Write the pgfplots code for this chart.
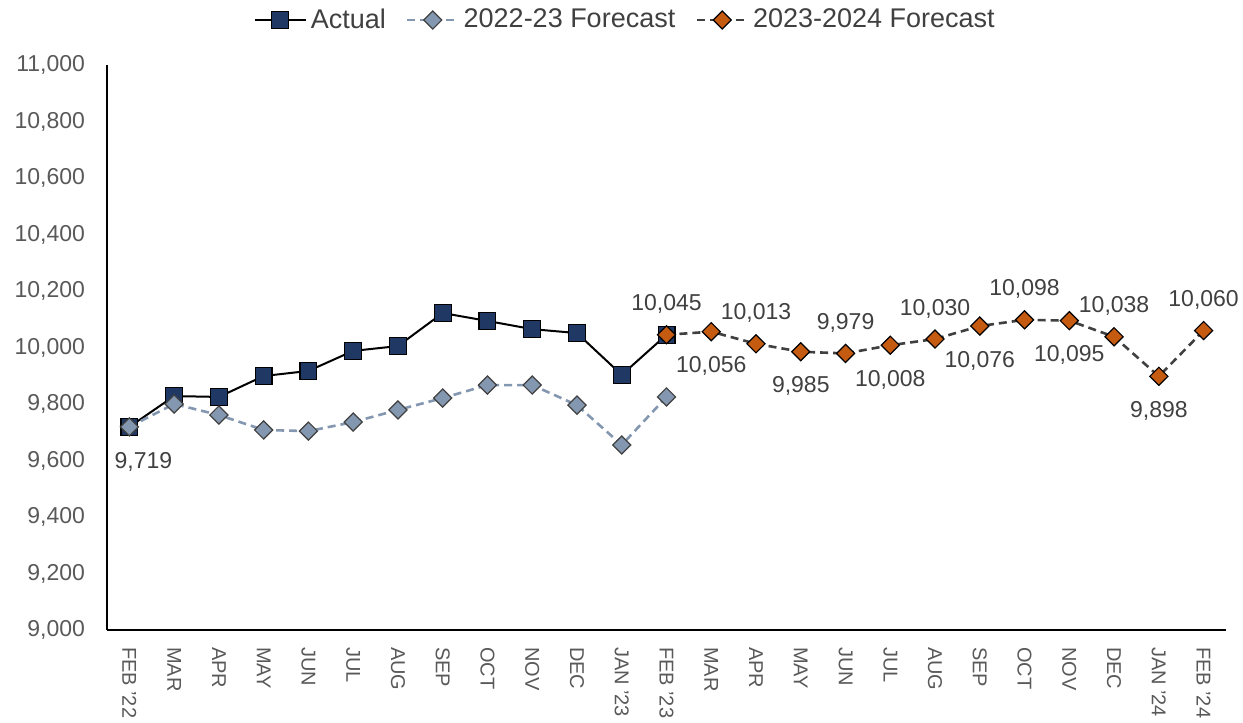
\documentclass[border=0pt]{standalone}
\usepackage{pgfplots}
\pgfplotsset{compat=1.18}
\usepackage{pgfplotstable}
\usepackage{fontspec}
\setmainfont{Liberation Sans}
\definecolor{navy}{HTML}{1F3864}
\definecolor{steel}{HTML}{8497B0}
\definecolor{rust}{HTML}{C55A11}
\definecolor{dgray}{HTML}{404040}
\definecolor{tgray}{HTML}{595959}

\pgfplotstableread{
x y
0 9719
1 9828
2 9825
3 9899
4 9917
5 9988
6 10005
7 10122
8 10094
9 10065
10 10051
11 9903
12 10045
}\actual

\pgfplotstableread{
x y
0 9719
1 9800
2 9761
3 9708
4 9704
5 9736
6 9779
7 9821
8 9867
9 9867
10 9796
11 9655
12 9825
}\fcsta

\pgfplotstableread{
x y
12 10045
13 10056
14 10013
15 9985
16 9979
17 10008
18 10030
19 10076
20 10098
21 10095
22 10038
23 9898
24 10060
}\fcstb

\pgfplotstableread{
x y label dx
12 10045 10,045 0
14 10013 10,013 0
16 9979 9,979 0
18 10030 10,030 0
20 10098 10,098 0
22 10038 10,038 0
24 10060 10,060 0
}\lababove

\pgfplotstableread{
x y label dx
0 9719 9,719 7
13 10056 10,056 0
15 9985 9,985 0
17 10008 10,008 0
19 10076 10,076 0
21 10095 10,095 0
23 9898 9,898 0
}\labbelow

\begin{document}
\begin{tikzpicture}
\begin{axis}[
  scale only axis,
  width=559.5pt, height=282.5pt,
  xmin=-0.5, xmax=24.5,
  ymin=9000, ymax=11000,
  ytick={9000,9200,...,11000},
  scaled y ticks=false,
  yticklabel={\pgfmathprintnumber[fixed,precision=0,1000 sep={,}]{\tick}},
  axis x line*=bottom, axis y line*=left,
  axis line style={black, line width=0.9pt},
  major tick length=0pt,
  xtick={0,...,24},
  xticklabels={FEB '22,MAR,APR,MAY,JUN,JUL,AUG,SEP,OCT,NOV,DEC,JAN '23,FEB '23,MAR,APR,MAY,JUN,JUL,AUG,SEP,OCT,NOV,DEC,JAN '24,FEB '24},
  xticklabel style={rotate=-90, anchor=west, xshift=5pt, font=\fontsize{10pt}{12pt}\selectfont, text=tgray},
  yticklabel style={font=\fontsize{11.5pt}{13pt}\selectfont, text=tgray, xshift=-7.5pt},
  /pgf/number format/assume math mode=true,
  legend style={draw=none, fill=none, at={(0.464,1.0796)}, anchor=center,
    legend columns=3, font=\fontsize{13.5pt}{15pt}\selectfont, text=dgray,
    /tikz/every even column/.append style={column sep=8pt}},
  legend image code/.code={\draw[mark repeat=2,mark phase=2] plot coordinates {(0cm,0cm) (0.45cm,0cm) (0.9cm,0cm)};},
  legend cell align=left,
  clip=false,
]
\addplot[black, line width=1pt, mark=square*, mark size=4.2pt,
  mark options={fill=navy, draw=black, line width=0.6pt, solid}] table {\actual};
\addlegendentry{Actual}
\addplot[steel, line width=1.3pt, dash pattern=on 4pt off 2.5pt, mark=square*, mark size=3.2pt,
  mark options={fill=steel, draw=dgray, rotate=45, line width=0.6pt, solid}] table {\fcsta};
\addlegendentry{2022-23 Forecast}
\addplot[dgray, line width=1.3pt, dash pattern=on 4pt off 2.5pt, mark=square*, mark size=3.2pt,
  mark options={fill=rust, draw=black, rotate=45, line width=0.6pt, solid}] table {\fcstb};
\addlegendentry{2023-2024 Forecast}
\addplot[draw=none, mark=none, forget plot,
  nodes near coords, point meta=explicit symbolic,
  visualization depends on={\thisrow{dx} \as \dx},
  nodes near coords style={anchor=south, yshift=7pt, xshift=\dx pt, text=dgray, font=\fontsize{11.5pt}{13pt}\selectfont}]
  table[meta=label] {\lababove};
\addplot[draw=none, mark=none, forget plot,
  nodes near coords, point meta=explicit symbolic,
  visualization depends on={\thisrow{dx} \as \dx},
  nodes near coords style={anchor=north, yshift=-9pt, xshift=\dx pt, text=dgray, font=\fontsize{11.5pt}{13pt}\selectfont}]
  table[meta=label] {\labbelow};
\coordinate (ll) at (rel axis cs:0,0);
\coordinate (ur) at (rel axis cs:1,1);
\end{axis}
\pgfresetboundingbox
\path ([shift={(-53.5pt,-46.5pt)}]ll) rectangle ([shift={(8.5pt,32.5pt)}]ur);
\end{tikzpicture}
\end{document}
